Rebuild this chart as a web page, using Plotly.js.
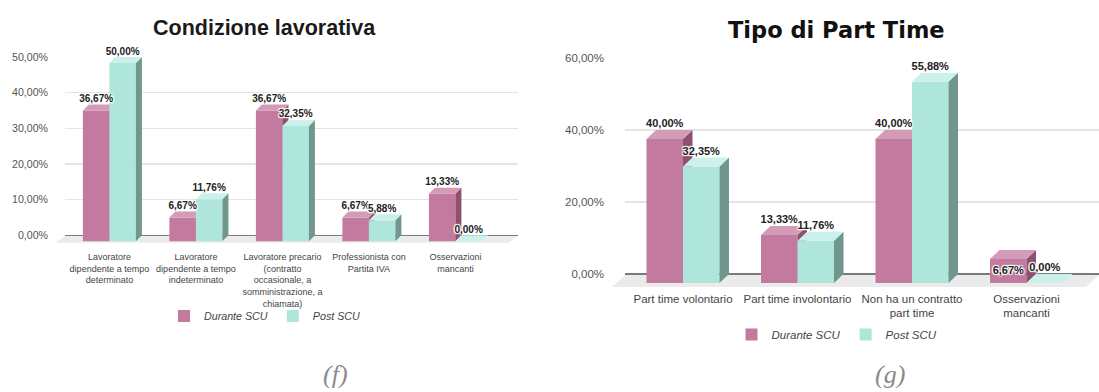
<!DOCTYPE html>
<html>
<head>
<meta charset="utf-8">
<script src="https://cdn.plot.ly/plotly-3.0.1.min.js"></script>
<style>
html,body{margin:0;padding:0;background:#ffffff;}
#chart{width:1099px;height:392px;}
</style>
</head>
<body>
<div id="chart"></div>
<script>
// ---------------- DATA ----------------
const seriesNames = ['Durante SCU', 'Post SCU'];

const categoriesF = [
  'Lavoratore<br>dipendente a tempo<br>determinato',
  'Lavoratore<br>dipendente a tempo<br>indeterminato',
  'Lavoratore precario<br>(contratto<br>occasionale, a<br>somministrazione, a<br>chiamata)',
  'Professionista con<br>Partita IVA',
  'Osservazioni<br>mancanti'
];
const duranteF = [36.67, 6.67, 36.67, 6.67, 13.33];
const postF    = [50.00, 11.76, 32.35, 5.88, 0.00];
const yTicksF  = [0, 10, 20, 30, 40, 50];

const categoriesG = [
  'Part time volontario',
  'Part time involontario',
  'Non ha un contratto<br>part time',
  'Osservazioni<br>mancanti'
];
const duranteG = [40.00, 13.33, 40.00, 6.67];
const postG    = [32.35, 11.76, 55.88, 0.00];
const yTicksG  = [0, 20, 40, 60];

// ---------------- STYLE / GEOMETRY ----------------
const W = 1099, H = 392;
const FONT = 'Liberation Sans, Arial, sans-serif';
const COL = {
  durFront: '#c27a9e', durTop: '#d49bb9', durSide: '#8f4f6f',
  postFront: '#afe6db', postTop: '#caf2ea', postSide: '#6f978d',
  grid: '#e4e4e4', zero: '#7a7a7a', floor: '#ebebeb',
  tick: '#555555', label: '#222222'
};

const fmt = v => v.toFixed(2).replace('.', ',') + '%';

// geometry of each 3D panel (pixels)
const GF = {gx0: 65, gx1: 518, y0: 235.3, k: 3.566, ymax: 50, c0: 109.4, s: 86.5, bwPx: 26.5,
            dx: 6, dy: 6, fdx: 10, fdy: 7.5, frontTop: 30, frontBottom: 250,
            yTickSize: 10.6, xTickSize: 9, labelSize: 10, standoff: 16};
const GG = {gx0: 625, gx1: 1099, y0: 274, k: 3.6, ymax: 60, c0: 683, s: 114.5, bwPx: 36.5,
            dx: 9.5, dy: 9, fdx: 13, fdy: 13, frontTop: 30, frontBottom: 290,
            yTickSize: 11.5, xTickSize: 11.5, labelSize: 11, standoff: 20};

const xd = (a, b) => [a / W, b / W];
const yd = (top, bot) => [1 - bot / H, 1 - top / H];
const axKey = id => (id[0] === 'x' ? 'xaxis' : 'yaxis') + id.slice(1);

const traces = [];
const layout = {
  width: W, height: H, autosize: false,
  margin: {l: 0, r: 0, t: 0, b: 0, pad: 0},
  paper_bgcolor: '#ffffff', plot_bgcolor: 'rgba(0,0,0,0)',
  hovermode: false, showlegend: true, barmode: 'overlay',
  shapes: [], annotations: []
};

const halo = '1px 1px 1px #fff, -1px -1px 1px #fff, 1px -1px 1px #fff, -1px 1px 1px #fff, 0 0 2px #fff';

function panel(G, cats, dur, post, yTicks, ids, legendId, insideDur) {
  const [bx, by, fx, fy, ox, oy] = ids;
  const bw = G.bwPx / G.s;          // bar width in category units
  const ddx = G.dx / G.s;           // depth in x units
  const ddy = G.dy / G.k;           // depth in value units
  const L = G.gx0 - 25, R = G.gx1;
  const xr = [(L - G.c0) / G.s, (R - G.c0) / G.s];
  const yr = [(G.y0 + G.dy - G.frontBottom) / G.k, (G.y0 + G.dy - G.frontTop) / G.k];

  // back plane: gridlines + y tick labels
  layout[axKey(bx)] = {domain: xd(G.gx0, G.gx1), range: [0, 1], visible: false, anchor: by, fixedrange: true};
  layout[axKey(by)] = {
    domain: yd(G.y0 - G.ymax * G.k, G.y0), range: [0, G.ymax], anchor: bx,
    tickvals: yTicks, ticktext: yTicks.map(fmt), ticks: '', showline: false,
    showgrid: true, gridcolor: COL.grid, gridwidth: 1.5,
    zeroline: true, zerolinecolor: COL.zero, zerolinewidth: 1.6,
    tickfont: {family: FONT, size: G.yTickSize, color: COL.tick},
    ticklabelstandoff: G.standoff, fixedrange: true
  };
  // front plane (Durante) + overlay (Post)
  layout[axKey(fx)] = {
    domain: xd(L, R), range: xr, anchor: fy,
    tickvals: cats.map((c, i) => i), ticktext: cats, tickangle: 0,
    ticks: '', showgrid: false, zeroline: false, showline: false,
    tickfont: {family: FONT, size: G.xTickSize, color: '#444444'}, fixedrange: true
  };
  layout[axKey(fy)] = {domain: yd(G.frontTop, G.frontBottom), range: yr, visible: false, anchor: fx, fixedrange: true};
  layout[axKey(ox)] = {overlaying: fx, range: xr, visible: false, anchor: oy, fixedrange: true};
  layout[axKey(oy)] = {overlaying: fy, range: yr, visible: false, anchor: ox, fixedrange: true};

  // floor of the 3D box (decoration, derived from the back-plane extent)
  const px = v => (v / W).toFixed(5), py = v => (1 - v / H).toFixed(5);
  layout.shapes.push({
    type: 'path', xref: 'paper', yref: 'paper', layer: 'below',
    path: `M${px(G.gx0)},${py(G.y0 + 1)} L${px(G.gx1)},${py(G.y0 + 1)} L${px(G.gx1 - G.fdx)},${py(G.y0 + G.fdy)} L${px(G.gx0 - G.fdx)},${py(G.y0 + G.fdy)} Z`,
    fillcolor: COL.floor, line: {width: 0}
  });

  traces.push({type: 'scatter', x: [null], y: [null], xaxis: bx, yaxis: by, showlegend: false, hoverinfo: 'skip'});

  function series(vals, offset, xa, ya, cFront, cTop, cSide, name) {
    const xs = vals.map((v, i) => i + offset);
    traces.push({
      type: 'bar', name: name, x: xs, y: vals, width: bw, xaxis: xa, yaxis: ya,
      marker: {color: cFront, line: {width: 0}}, legend: legendId, showlegend: true, hoverinfo: 'skip'
    });
    const sx = [], sy = [], tx = [], ty = [];
    vals.forEach((v, i) => {
      const x0 = xs[i] - bw / 2, x1 = xs[i] + bw / 2;
      sx.push(x1, x1 + ddx, x1 + ddx, x1, x1, null);
      sy.push(0, ddy, v + ddy, v, 0, null);
      tx.push(x0, x1, x1 + ddx, x0 + ddx, x0, null);
      ty.push(v, v, v + ddy, v + ddy, v, null);
    });
    traces.push({type: 'scatter', mode: 'lines', x: sx, y: sy, fill: 'toself', fillcolor: cSide,
                 line: {width: 0, color: cSide}, xaxis: xa, yaxis: ya, showlegend: false, hoverinfo: 'skip'});
    traces.push({type: 'scatter', mode: 'lines', x: tx, y: ty, fill: 'toself', fillcolor: cTop,
                 line: {width: 0, color: cTop}, xaxis: xa, yaxis: ya, showlegend: false, hoverinfo: 'skip'});
    return xs;
  }
  const xsD = series(dur, -bw / 2, fx, fy, COL.durFront, COL.durTop, COL.durSide, seriesNames[0]);
  const xsP = series(post, bw / 2, ox, oy, COL.postFront, COL.postTop, COL.postSide, seriesNames[1]);

  // data labels (on top of everything)
  const lab = (vals, xs, inside) => ({
    type: 'scatter', mode: 'text', x: xs,
    y: vals.map((v, i) => inside && inside[i] ? v / 2 : v + ddy),
    text: vals.map(fmt),
    textposition: vals.map((v, i) => inside && inside[i] ? 'middle center' : 'top center'),
    textfont: {family: FONT, size: G.labelSize, color: COL.label, weight: 700, shadow: halo},
    cliponaxis: false, xaxis: ox, yaxis: oy, showlegend: false, hoverinfo: 'skip'
  });
  traces.push(lab(dur, xsD, insideDur));
  traces.push(lab(post, xsP, null));
}

panel(GF, categoriesF, duranteF, postF, yTicksF, ['x', 'y', 'x2', 'y2', 'x3', 'y3'], 'legend', null);
panel(GG, categoriesG, duranteG, postG, yTicksG, ['x4', 'y4', 'x5', 'y5', 'x6', 'y6'], 'legend2', [false, false, false, true]);

layout.legend = {
  orientation: 'h', x: 265 / W, xanchor: 'center', y: 1 - 316 / H, yanchor: 'middle',
  font: {family: FONT, size: 10.7, color: '#444444', style: 'italic'},
  bgcolor: 'rgba(0,0,0,0)', itemwidth: 30, traceorder: 'normal'
};
layout.legend2 = {
  orientation: 'h', x: 837 / W, xanchor: 'center', y: 1 - 334.5 / H, yanchor: 'middle',
  font: {family: FONT, size: 11.5, color: '#444444', style: 'italic'},
  bgcolor: 'rgba(0,0,0,0)', itemwidth: 30, traceorder: 'normal'
};

layout.annotations.push(
  {text: 'Condizione lavorativa', xref: 'paper', yref: 'paper', x: 264 / W, y: 1 - 28 / H,
   xanchor: 'center', yanchor: 'middle', showarrow: false,
   font: {family: FONT, size: 21.5, color: '#1a1a1a', weight: 700}},
  {text: 'Tipo di Part Time', xref: 'paper', yref: 'paper', x: 836.5 / W, y: 1 - 30 / H,
   xanchor: 'center', yanchor: 'middle', showarrow: false,
   font: {family: 'DejaVu Sans, Verdana, sans-serif', size: 22.5, color: '#111111', weight: 700}},
  {text: '(f)', xref: 'paper', yref: 'paper', x: 335 / W, y: 1 - 374 / H,
   xanchor: 'center', yanchor: 'middle', showarrow: false,
   font: {family: 'Liberation Serif, Times New Roman, serif', size: 26, color: '#8a8a8a', style: 'italic'}},
  {text: '(g)', xref: 'paper', yref: 'paper', x: 890 / W, y: 1 - 374 / H,
   xanchor: 'center', yanchor: 'middle', showarrow: false,
   font: {family: 'Liberation Serif, Times New Roman, serif', size: 26, color: '#8a8a8a', style: 'italic'}}
);

Plotly.newPlot('chart', traces, layout, {staticPlot: true, displayModeBar: false});
</script>
</body>
</html>
